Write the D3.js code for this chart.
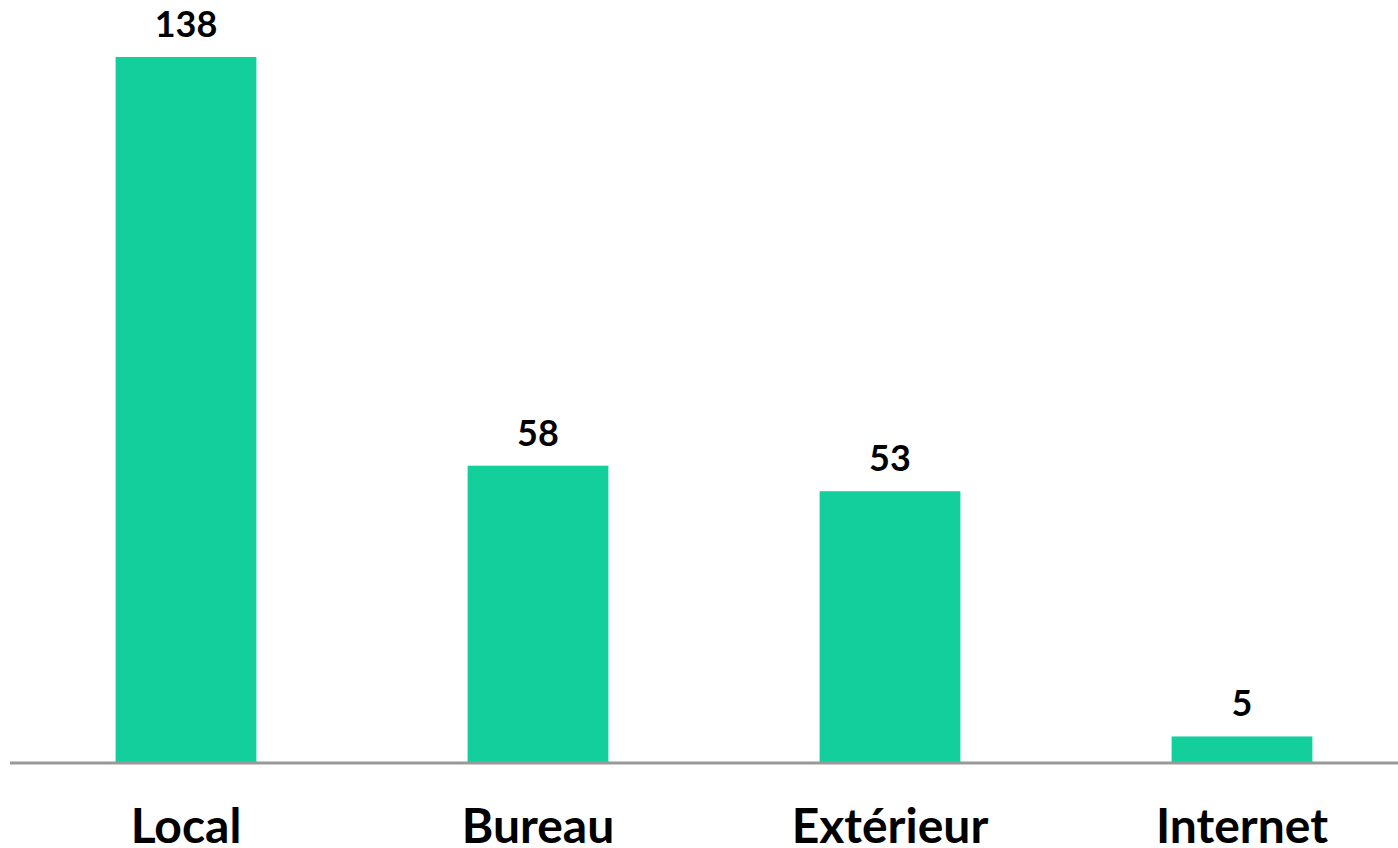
<!DOCTYPE html>
<html>
<head>
<meta charset="utf-8">
<script src="https://cdn.jsdelivr.net/npm/d3@7"></script>
<style>
html,body{margin:0;padding:0;background:#fff;}
svg{display:block;}
</style>
</head>
<body>
<svg id="chart" width="1398" height="848"></svg>
<script>
const categories = ["Local", "Bureau", "Extérieur", "Internet"];
const values = [138, 58, 53, 5];

const W = 1398, H = 848;
const svg = d3.select("#chart");
const baseY = 762;

const x = d3.scaleBand().domain(categories).range([10, 1418]).paddingInner(0.6).paddingOuter(0.3);
const y = d3.scaleLinear().domain([0, 138]).range([baseY, 57]);

svg.append("g").selectAll("rect").data(categories).join("rect")
  .attr("x", d => x(d))
  .attr("width", x.bandwidth())
  .attr("y", (d, i) => y(values[i]))
  .attr("height", (d, i) => baseY - y(values[i]))
  .attr("fill", "#12CF9C");

const axis = d3.axisBottom(x).tickSize(0).tickPadding(0);
const gAxis = svg.append("g").attr("transform", `translate(0,${baseY + 1})`).call(axis);
gAxis.select(".domain").attr("d", "M10,0H1398").attr("stroke", "#999").attr("stroke-width", 3);
gAxis.selectAll(".tick text")
  .attr("y", 80).attr("dy", 0)
  .attr("font-family", "Lato, sans-serif")
  .attr("font-weight", "bold")
  .attr("font-size", 48)
  .attr("fill", "#000");

svg.append("g").selectAll("text").data(categories).join("text")
  .attr("x", d => x(d) + x.bandwidth() / 2)
  .attr("y", (d, i) => y(values[i]) - 20)
  .attr("text-anchor", "middle")
  .attr("font-family", "Lato, sans-serif")
  .attr("font-weight", "bold")
  .attr("font-size", 36)
  .attr("fill", "#000")
  .text((d, i) => values[i]);
</script>
</body>
</html>
